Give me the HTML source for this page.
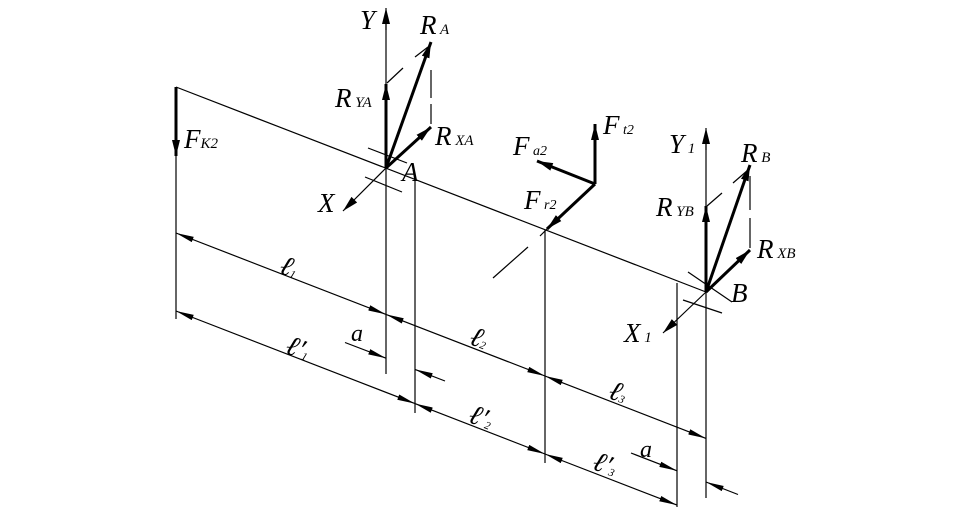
<!DOCTYPE html>
<html><head><meta charset="utf-8"><style>
html,body{margin:0;padding:0;background:#fff;}
svg{display:block;}
text{font-family:"Liberation Serif",serif;font-style:italic;fill:#000;}
</style></head><body>
<svg width="970" height="515" viewBox="0 0 970 515" xmlns="http://www.w3.org/2000/svg">
<defs>
<marker id="d" markerUnits="userSpaceOnUse" markerWidth="20" markerHeight="8" refX="18" refY="4" orient="auto-start-reverse" viewBox="0 0 20 8"><path d="M18,4 L0,1.2 L0,6.8 z" fill="#000"/></marker>
<marker id="f" markerUnits="userSpaceOnUse" markerWidth="18" markerHeight="10" refX="16" refY="5" orient="auto" viewBox="0 0 18 10"><path d="M16,5 L0,1 L0,9 z" fill="#000"/></marker>
</defs>
<g stroke="#000" fill="none" stroke-width="1.2">
<line x1="176" y1="87" x2="706" y2="292"/>
<line x1="176" y1="87" x2="176" y2="319"/>
<line x1="386" y1="12" x2="386" y2="374"/>
<line x1="415" y1="180" x2="415" y2="413"/>
<line x1="545" y1="230" x2="545" y2="463"/>
<line x1="677" y1="283" x2="677" y2="507"/>
<line x1="706" y1="132" x2="706" y2="498"/>
<line x1="176" y1="233" x2="386" y2="314.4" marker-start="url(#d)" marker-end="url(#d)"/>
<line x1="386" y1="314.4" x2="545" y2="376" marker-start="url(#d)" marker-end="url(#d)"/>
<line x1="545" y1="376" x2="706" y2="438.4" marker-start="url(#d)" marker-end="url(#d)"/>
<line x1="176" y1="311" x2="415" y2="403.6" marker-start="url(#d)" marker-end="url(#d)"/>
<line x1="415" y1="403.6" x2="545" y2="454" marker-start="url(#d)" marker-end="url(#d)"/>
<line x1="545" y1="454" x2="677" y2="505.1" marker-start="url(#d)" marker-end="url(#d)"/>
<line x1="345" y1="342.5" x2="386" y2="358.2" marker-end="url(#d)"/>
<line x1="445" y1="381" x2="415" y2="369.4" marker-end="url(#d)"/>
<line x1="631" y1="453" x2="677" y2="470.8" marker-end="url(#d)"/>
<line x1="738" y1="494.5" x2="706" y2="482" marker-end="url(#d)"/>
<line x1="368" y1="148" x2="407" y2="163"/>
<line x1="365" y1="177" x2="402" y2="192"/>
<line x1="386" y1="168" x2="343" y2="211" marker-end="url(#f)"/>
<line x1="386" y1="30" x2="386" y2="8" marker-end="url(#f)"/>
<line x1="387" y1="83" x2="403" y2="68"/>
<line x1="415" y1="57" x2="428" y2="47"/>
<line x1="431" y1="70" x2="431" y2="98"/>
<line x1="431" y1="104" x2="431" y2="124"/>
<line x1="688" y1="272" x2="732" y2="302"/>
<line x1="683" y1="300" x2="722" y2="313"/>
<line x1="706" y1="292" x2="663" y2="333" marker-end="url(#f)"/>
<line x1="706" y1="150" x2="706" y2="128" marker-end="url(#f)"/>
<line x1="707" y1="206" x2="722" y2="193"/>
<line x1="733" y1="183" x2="748" y2="170"/>
<line x1="750" y1="176" x2="750" y2="210"/>
<line x1="750" y1="218" x2="750" y2="248"/>
<line x1="540" y1="236" x2="552" y2="224"/>
<line x1="493" y1="278" x2="528" y2="247"/>
</g>
<g stroke="#000" fill="none" stroke-width="3">
<line x1="176" y1="87" x2="176" y2="156" marker-end="url(#f)"/>
<line x1="386" y1="168" x2="386" y2="84" marker-end="url(#f)"/>
<line x1="386" y1="168" x2="431" y2="42" marker-end="url(#f)"/>
<line x1="386" y1="168" x2="431" y2="127" marker-end="url(#f)"/>
<line x1="706" y1="292" x2="706" y2="206" marker-end="url(#f)"/>
<line x1="706" y1="292" x2="750" y2="165" marker-end="url(#f)"/>
<line x1="706" y1="292" x2="750" y2="250" marker-end="url(#f)"/>
<line x1="595" y1="184" x2="595" y2="124" marker-end="url(#f)"/>
<line x1="595" y1="184" x2="537" y2="161" marker-end="url(#f)"/>
<line x1="595" y1="184" x2="547" y2="229" marker-end="url(#f)"/>
</g>
<g font-size="27">
<text x="360" y="29">Y</text>
<text x="420" y="34">R<tspan font-size="15"> A</tspan></text>
<text x="335" y="107">R<tspan font-size="15"> YA</tspan></text>
<text x="435" y="145">R<tspan font-size="15"> XA</tspan></text>
<text x="402" y="181">A</text>
<text x="318" y="212">X</text>
<text x="184" y="148">F<tspan font-size="15">K2</tspan></text>
<text x="513" y="155">F<tspan font-size="14"> a2</tspan></text>
<text x="603" y="134">F<tspan font-size="14"> t2</tspan></text>
<text x="524" y="209">F<tspan font-size="14"> r2</tspan></text>
<text x="669" y="153">Y<tspan font-size="15"> 1</tspan></text>
<text x="741" y="162">R<tspan font-size="15"> B</tspan></text>
<text x="656" y="216">R<tspan font-size="15"> YB</tspan></text>
<text x="757" y="258">R<tspan font-size="15"> XB</tspan></text>
<text x="731" y="302">B</text>
<text x="624" y="342">X<tspan font-size="15"> 1</tspan></text>
</g>
<g font-size="28">
<text x="281" y="276" transform="rotate(21 289 266)">ℓ<tspan font-size="11">1</tspan></text>
<text x="471" y="347" transform="rotate(21 479 337)">ℓ<tspan font-size="11">2</tspan></text>
<text x="610" y="401" transform="rotate(21 618 391)">ℓ<tspan font-size="11">3</tspan></text>
<text x="287" y="356" transform="rotate(21 295 346)">ℓ′<tspan font-size="11">1</tspan></text>
<text x="470" y="425" transform="rotate(21 478 415)">ℓ′<tspan font-size="11">2</tspan></text>
<text x="594" y="472" transform="rotate(21 602 462)">ℓ′<tspan font-size="11">3</tspan></text>
<text x="351" y="341" font-size="24">a</text>
<text x="640" y="457" font-size="24">a</text>
</g>
</svg>
</body></html>
